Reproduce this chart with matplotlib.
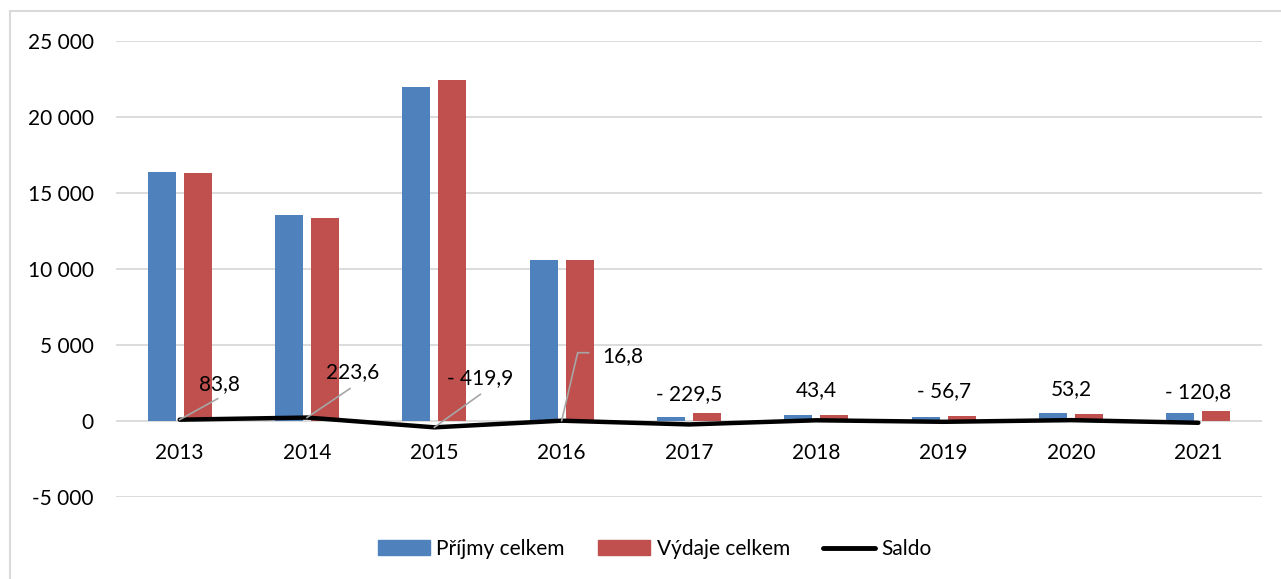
import matplotlib
matplotlib.use('Agg')
import matplotlib.pyplot as plt
from matplotlib.patches import Patch
from matplotlib.lines import Line2D
from matplotlib.transforms import IdentityTransform
import numpy as np

plt.rcParams['font.family'] = ['Lato', 'DejaVu Sans']

# Data (mil. Kč)
roky = ['2013', '2014', '2015', '2016', '2017', '2018', '2019', '2020', '2021']
prijmy = [16380, 13560, 21980, 10610, 290, 420, 265, 500, 530]
vydaje = [16296, 13336, 22400, 10593, 520, 377, 322, 447, 651]
saldo = [83.8, 223.6, -419.9, 16.8, -229.5, 43.4, -56.7, 53.2, -120.8]

modra = '#4F81BD'
cervena = '#C0504D'
seda = '#D9D9D9'

fig = plt.figure(figsize=(12.81, 5.79), dpi=100)
ax = fig.add_axes([116/1281, 1 - 497/579, (1262 - 116)/1281, (497 - 40.7)/579])

x = np.arange(len(roky))
sirka = 0.22
ax.bar(x - 0.142, prijmy, sirka, color=modra, zorder=2)
ax.bar(x + 0.142, vydaje, sirka, color=cervena, zorder=2)
ax.plot(x, saldo, color='black', lw=3.2, solid_capstyle='round',
        solid_joinstyle='round', zorder=3)

ax.set_xlim(-0.5, 8.5)
ax.set_ylim(-5000, 25000)
ax.set_yticks(np.arange(-5000, 25001, 5000))
ax.yaxis.set_major_formatter(lambda v, p: f'{v:,.0f}'.replace(',', ' '))
ax.set_xticks(x)
ax.set_xticklabels(roky)
ax.grid(axis='y', color=seda, lw=1.3, zorder=0)
ax.set_axisbelow(True)

for s in ax.spines.values():
    s.set_visible(False)
ax.spines['bottom'].set_position(('data', 0))
ax.tick_params(axis='both', length=0, labelsize=15, colors='black')
ax.tick_params(axis='x', pad=16)
ax.tick_params(axis='y', pad=16)


def popisek(v):
    txt = f'{abs(v):.1f}'.replace('.', ',')
    return '- ' + txt if v < 0 else txt


# posuny popisků (px) a vodicí čáry u prvních let
posuny = [(40, -30, 'center'), (46, -39, 'center'), (46, -43, 'center'),
          (41, -59, 'left'), (0, -24.5, 'center'), (0, -24, 'center'),
          (0, -24.6, 'center'), (0, -25, 'center'), (0, -24.5, 'center')]
vodice = {0: [(38, -21)], 1: [(43, -29)], 2: [(46, -33)], 3: [(16, -68), (27, -68)]}

px = 0.72  # body na pixel při 100 dpi
for i, v in enumerate(saldo):
    dx, dy, ha = posuny[i]
    ax.annotate(popisek(v), (i, v), xytext=(dx * px, -dy * px),
                textcoords='offset points', ha=ha, va='baseline',
                fontsize=15, zorder=4)

# vodicí čáry kreslené v pixelech od bodu salda
for i, lomy in vodice.items():
    x0, y0 = ax.transData.transform((i, saldo[i]))
    xs = [x0] + [x0 + a for a, b in lomy]
    ys = [y0] + [y0 - b for a, b in lomy]
    fig.add_artist(Line2D(xs, ys, transform=IdentityTransform(),
                          color='#A6A6A6', lw=1.2, zorder=4))

# rámeček grafu
fig.add_artist(Line2D([10/1281, 10/1281], [0, 1 - 11/579], color=seda, lw=1.5))
fig.add_artist(Line2D([10/1281, 1], [1 - 11/579, 1 - 11/579], color=seda, lw=1.5))

handles = [Patch(color=modra), Patch(color=cervena),
           Line2D([], [], color='black', lw=3.5, solid_capstyle='round')]
fig.legend(handles, ['Příjmy celkem', 'Výdaje celkem', 'Saldo'], ncol=3,
           loc='center', bbox_to_anchor=(655/1281, 1 - 549/579), frameon=False,
           fontsize=15, handlelength=2.5, handleheight=0.7, handletextpad=0.3,
           columnspacing=1.6)

fig.savefig('out.png', dpi=100)
